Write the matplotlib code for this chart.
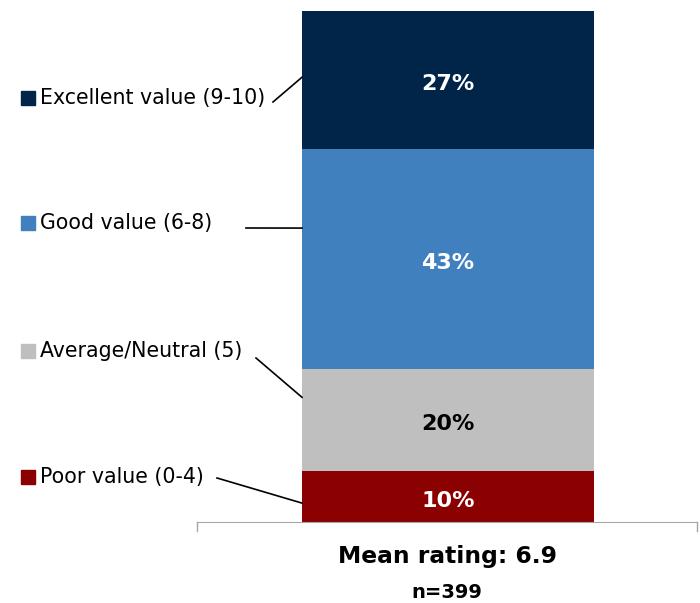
import matplotlib
matplotlib.use("Agg")
import matplotlib.pyplot as plt

categories = ["Poor value (0-4)", "Average/Neutral (5)", "Good value (6-8)", "Excellent value (9-10)"]
values = [10, 20, 43, 27]
colors = ["#8B0000", "#BFBFBF", "#4080BF", "#002548"]
text_colors = ["white", "black", "white", "white"]
mean_rating = 6.9
n_resp = 399

W, H = 700, 603
fig = plt.figure(figsize=(W / 100, H / 100), dpi=100)
ax = fig.add_axes([197 / W, (H - 522) / H, 500 / W, 511 / H])
ax.set_xlim(0, 1)
ax.set_ylim(0, 100)

bar_x, bar_w = 0.502, 0.584
bottom = 0
mids = []
for v, c, tc in zip(values, colors, text_colors):
    ax.bar(bar_x, v, bar_w, bottom=bottom, color=c, edgecolor="none")
    ax.text(bar_x, bottom + v / 2 - 0.8, f"{v}%", ha="center", va="center",
            color=tc, fontsize=16, fontweight="bold")
    mids.append(bottom)
    bottom += v

for s in ["top", "left", "right"]:
    ax.spines[s].set_visible(False)
ax.spines["bottom"].set_color("#A6A6A6")
ax.set_xticks([])
ax.set_yticks([])
for xe in [0, 1]:
    ax.plot([xe, xe], [0, -1.7], color="#A6A6A6", lw=1, clip_on=False)

# labels on the left with leader lines to the bar
label_py = [477, 351, 223, 98]          # text centre, pixels from top
line_start = [(217, 478), (256, 358), (246, 228), (273, 102)]
line_end_frac = [0.37, 0.72, 0.64, 0.52]  # position along segment
bar_left = bar_x - bar_w / 2

def to_data(px, py):
    return (px - 197) / 500, (522 - py) / 511 * 100

for i, lab in enumerate(categories):
    py = label_py[i]
    fig.patches.append(plt.Rectangle((21 / W, 1 - (py + 7) / H), 14 / W, 14 / H,
                                     transform=fig.transFigure, color=colors[i]))
    fig.text(40 / W, 1 - py / H, lab, ha="left", va="center", fontsize=14.8, color="black")
    x0, y0 = to_data(*line_start[i])
    y1 = mids[i] + values[i] * line_end_frac[i]
    ax.plot([x0, bar_left], [y0, y1], color="black", lw=1.2, clip_on=False)

fig.text(447 / W, 1 - 557 / H, f"Mean rating: {mean_rating}", ha="center", va="center",
         fontsize=16.8, fontweight="bold")
fig.text(447 / W, 1 - 593 / H, f"n={n_resp}", ha="center", va="center",
         fontsize=14, fontweight="bold")

fig.savefig("out.png", dpi=100)
